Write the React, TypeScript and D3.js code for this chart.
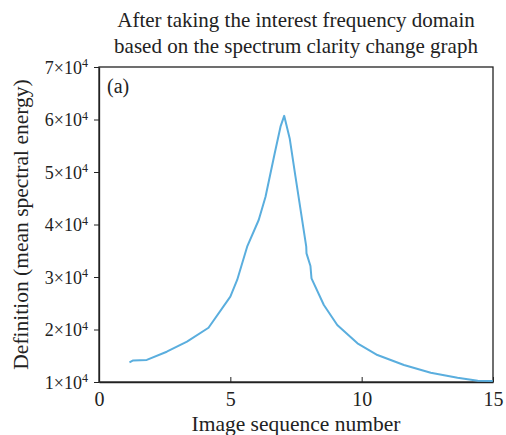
import React, { useEffect, useRef } from 'react';
import * as d3 from 'd3';

// curve (x = image index, y in units of 1e4)
const seqX = [1.16, 1.3, 1.82, 2.58, 3.35, 4.17, 5.0, 5.26, 5.64, 6.08, 6.34, 6.69, 6.91, 7.05, 7.26, 7.48, 7.89, 7.9, 8.05, 8.09, 8.56, 9.07, 9.84, 10.6, 11.61, 12.63, 13.65, 14.42, 14.99];
const defY = [1.375, 1.41, 1.42, 1.577, 1.768, 2.034, 2.625, 2.943, 3.577, 4.086, 4.53, 5.356, 5.863, 6.07, 5.64, 4.91, 3.577, 3.45, 3.21, 2.975, 2.467, 2.086, 1.737, 1.514, 1.324, 1.177, 1.082, 1.025, 1.02];
const xTicks = [0, 5, 10, 15];
const yTicks = [1, 2, 3, 4, 5, 6, 7];
const titleLines = ['After taking the interest frequency domain', 'based on the spectrum clarity change graph'];

const W = 506;
const H = 435;

const App: React.FC = () => {
  const svgRef = useRef<SVGSVGElement | null>(null);

  useEffect(() => {
    if (!svgRef.current) return;
    document.body.style.margin = '0';

    const margin = { top: 67, right: 13, bottom: 53, left: 99 };
    const innerW = W - margin.left - margin.right;
    const innerH = H - margin.top - margin.bottom;
    const font = '"Liberation Serif", "Times New Roman", serif';

    const svg = d3.select(svgRef.current);
    svg.selectAll('*').remove();

    const g = svg.append('g').attr('transform', `translate(${margin.left},${margin.top})`);

    const x = d3.scaleLinear().domain([0, 15]).range([0, innerW]);
    const y = d3.scaleLinear().domain([1, 7]).range([innerH, 0]);

    // box
    g.append('rect')
      .attr('width', innerW)
      .attr('height', innerH)
      .attr('fill', 'none')
      .attr('stroke', '#222')
      .attr('stroke-width', 1.3);

    // x axis, ticks pointing in
    const xAxis = g.append('g')
      .attr('transform', `translate(0,${innerH})`)
      .call(d3.axisBottom(x).tickValues(xTicks).tickSizeInner(-5).tickSizeOuter(0).tickPadding(10));
    xAxis.select('.domain').attr('stroke', '#222').attr('stroke-width', 1.3);
    xAxis.selectAll('line').attr('stroke', '#222');
    xAxis.selectAll('text')
      .attr('fill', '#222')
      .style('font-family', font)
      .style('font-size', '20px');

    // y axis
    const yAxis = g.append('g')
      .call(d3.axisLeft(y).tickValues(yTicks).tickSizeInner(5).tickSizeOuter(0).tickPadding(6).tickFormat(() => ''));
    yAxis.select('.domain').attr('stroke', '#222').attr('stroke-width', 1.3);
    yAxis.selectAll('line').attr('stroke', '#222');
    yAxis.selectAll('.tick text').each(function (d) {
      const t = d3.select(this as SVGTextElement);
      t.attr('fill', '#222')
        .attr('dy', '0.35em')
        .style('font-family', font)
        .style('font-size', '18px');
      t.append('tspan').text(`${d}×10`);
      t.append('tspan').text('4').attr('dy', '-0.55em').style('font-size', '12px');
    });

    // curve
    const pts = seqX.map((v, i) => [v, defY[i]] as [number, number]);
    g.append('path')
      .datum(pts)
      .attr('fill', 'none')
      .attr('stroke', '#5aaede')
      .attr('stroke-width', 2)
      .attr('stroke-linejoin', 'round')
      .attr('d', d3.line<[number, number]>().x(d => x(d[0])).y(d => y(d[1])));

    // panel tag
    g.append('text')
      .attr('x', 8)
      .attr('y', 26)
      .attr('fill', '#222')
      .style('font-family', font)
      .style('font-size', '20px')
      .text('(a)');

    // title
    svg.selectAll('.title')
      .data(titleLines)
      .enter()
      .append('text')
      .attr('class', 'title')
      .attr('x', margin.left + innerW / 2)
      .attr('y', (_, i) => 27 + i * 26)
      .attr('text-anchor', 'middle')
      .attr('fill', '#222')
      .style('font-family', font)
      .style('font-size', '21px')
      .text(d => d);

    // axis labels
    svg.append('text')
      .attr('x', margin.left + innerW / 2)
      .attr('y', 431)
      .attr('text-anchor', 'middle')
      .attr('fill', '#222')
      .style('font-family', font)
      .style('font-size', '21.5px')
      .text('Image sequence number');

    svg.append('text')
      .attr('transform', `translate(28,${margin.top + innerH / 2}) rotate(-90)`)
      .attr('text-anchor', 'middle')
      .attr('fill', '#222')
      .style('font-family', font)
      .style('font-size', '21.5px')
      .text('Definition (mean spectral energy)');
  }, []);

  return <svg ref={svgRef} width={W} height={H} style={{ display: 'block', background: '#fff' }} />;
};

export default App;
